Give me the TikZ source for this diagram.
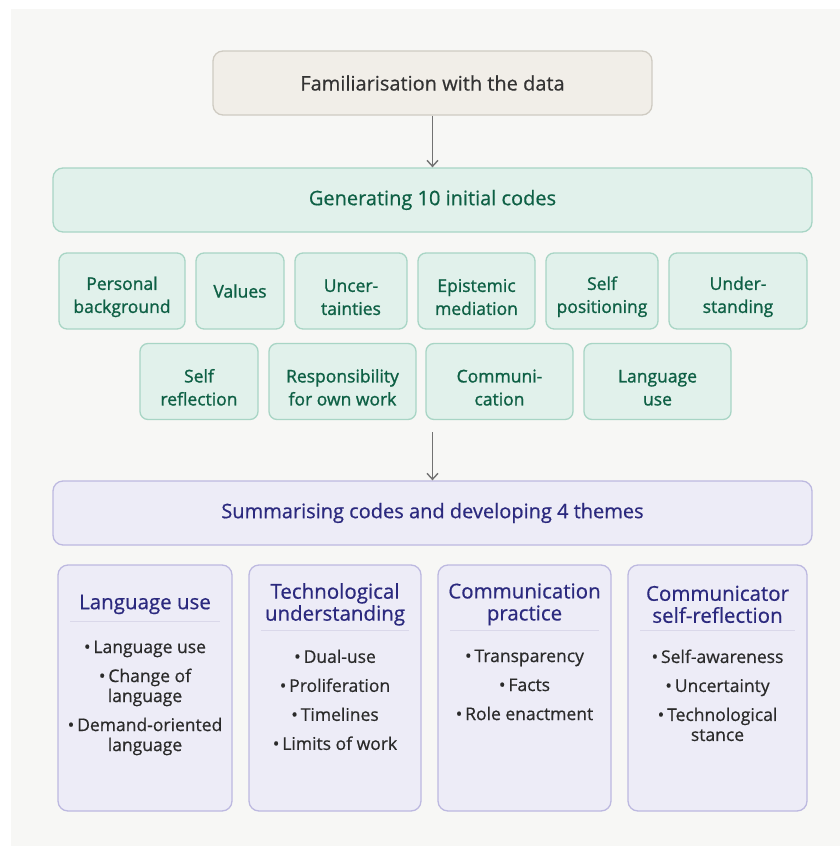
\documentclass[tikz,border=0pt]{standalone}
\usepackage{fontspec}
\setmainfont{Open Sans}
\newfontfamily\medfont{Open Sans}[FakeBold=0.6]
\newfontfamily\semifont{Open Sans}[FakeBold=1.2]
\usetikzlibrary{positioning,calc,arrows.meta}
\definecolor{pagebg}{HTML}{F7F7F5}
\definecolor{sandfill}{HTML}{F1EEE8}
\definecolor{sandline}{HTML}{CFCBC2}
\definecolor{sandtext}{HTML}{333333}
\definecolor{mintfill}{HTML}{E1F1EB}
\definecolor{mintline}{HTML}{A8D5C5}
\definecolor{minttext}{HTML}{0E6045}
\definecolor{lilacfill}{HTML}{EDECF7}
\definecolor{lilacline}{HTML}{BDB9E0}
\definecolor{lilactext}{HTML}{2B297E}
\definecolor{lilacrule}{HTML}{DAD8EA}
\definecolor{itemtext}{HTML}{2A2A2A}
\definecolor{arrowgray}{HTML}{727272}
\newcommand{\lift}{\rule{0pt}{25pt}}
\tikzset{
  stage/.style={draw, rounded corners=10pt, line width=1.3pt, minimum height=64pt,
    inner sep=0pt, font=\medfont\fontsize{20}{24}\selectfont},
  code/.style={draw=mintline, fill=mintfill, text=minttext, rounded corners=8pt,
    line width=1.3pt, minimum height=76pt, inner sep=0pt, align=center,
    font=\semifont\fontsize{17.5}{23}\selectfont},
  theme/.style={draw=lilacline, fill=lilacfill, rounded corners=10pt,
    line width=1.3pt, minimum height=246pt, inner sep=0pt},
  title/.style={text=lilactext, inner sep=0pt, align=center,
    font=\medfont\fontsize{20.5}{22}\selectfont},
  items/.style={text=itemtext, inner sep=0pt, align=center,
    font=\medfont\fontsize{17.5}{20}\selectfont},
  divider/.style={draw=lilacrule, line width=1.6pt},
  flow/.style={draw=arrowgray, line width=1.6pt,
    -{Straight Barb[length=6pt,width=11pt,line width=1.4pt]}}
}

\begin{document}
\begin{tikzpicture}
        \useasboundingbox (0pt,0pt) rectangle (840pt,-846pt);
        \fill[pagebg] (11pt,-9pt) rectangle (840pt,-846pt);
        % stages
        \node (data) [stage, fill=sandfill, draw=sandline, text=sandtext, minimum width=439pt] at (432.5pt,-83pt) {Familiarisation with the data};
        \node (codes) [stage, fill=mintfill, draw=mintline, text=minttext, minimum width=759pt] at (432.5pt,-200pt) {Generating 10 initial codes};
        \node (themes) [stage, fill=lilacfill, draw=lilacline, text=lilactext, minimum width=759pt] at (432.5pt,-513pt) {Summarising codes and developing 4 themes};
        % initial codes
        \node (c1) [code, minimum width=126pt] at (122pt,-291pt) {\lift Personal\\background};
        \node (c2) [code, minimum width=88pt] at (240pt,-291pt) {Values};
        \node (c3) [code, minimum width=112pt] at (351pt,-291pt) {\lift Uncer-\\tainties};
        \node (c4) [code, minimum width=117pt] at (476.5pt,-291pt) {\lift Epistemic\\mediation};
        \node (c5) [code, minimum width=112pt] at (602pt,-291pt) {\lift Self\\positioning};
        \node (c6) [code, minimum width=138pt] at (738pt,-291pt) {\lift Under-\\standing};
        \node (c7) [code, minimum width=118pt] at (199pt,-381.5pt) {\lift Self\\reflection};
        \node (c8) [code, minimum width=147pt] at (342.5pt,-381.5pt) {\lift Responsibility\\for own work};
        \node (c9) [code, minimum width=147pt] at (499.5pt,-381.5pt) {\lift Communi-\\cation};
        \node (c10) [code, minimum width=147pt] at (657.5pt,-381.5pt) {\lift Language\\use};
        \coordinate (a2) at (432.5pt,-432pt);
        % themes
        \node (t1) [theme, minimum width=174pt] at (145pt,-688pt) {};
        \node (t2) [theme, minimum width=172pt] at (335pt,-688pt) {};
        \node (t3) [theme, minimum width=173pt] at (524.5pt,-688pt) {};
        \node (t4) [theme, minimum width=179pt] at (717.5pt,-688pt) {};
        \node (t1h) [title] at ([yshift=-40pt]t1.north) {Language use};
        \node (t2h) [title] at ([yshift=-40pt]t2.north) {Technological\\understanding};
        \node (t3h) [title] at ([yshift=-40pt]t3.north) {Communication\\practice};
        \node (t4h) [title] at ([yshift=-40pt]t4.north) {Communicator\\self-reflection};
        \coordinate (t1r) at ([yshift=-57pt]t1.north);
        \coordinate (t2r) at ([yshift=-66pt]t2.north);
        \coordinate (t3r) at ([yshift=-66pt]t3.north);
        \coordinate (t4r) at ([yshift=-66pt]t4.north);
        \node (t1l) [items, below=19pt of t1r] {\textbullet\,Language use\\[9pt]\textbullet\,Change of\\language\\[9pt]\textbullet\,Demand-oriented\\language};
        \node (t2l) [items, below=19pt of t2r] {\textbullet\,Dual-use\\[9pt]\textbullet\,Proliferation\\[9pt]\textbullet\,Timelines\\[9pt]\textbullet\,Limits of work};
        \node (t3l) [items, below=19pt of t3r] {\textbullet\,Transparency\\[9pt]\textbullet\,Facts\\[9pt]\textbullet\,Role enactment};
        \node (t4l) [items, below=19pt of t4r] {\textbullet\,Self-awareness\\[9pt]\textbullet\,Uncertainty\\[9pt]\textbullet\,Technological\\stance};
        \foreach \t in {t1,t2,t3,t4}
                \draw[divider] ($(\t r -| \t.west)+(13pt,0)$) -- ($(\t r -| \t.east)+(-13pt,0)$);
        % flow
        \draw (data) edge [flow] (codes);
        \draw (a2) edge [flow] (themes);
\end{tikzpicture}
\end{document}
